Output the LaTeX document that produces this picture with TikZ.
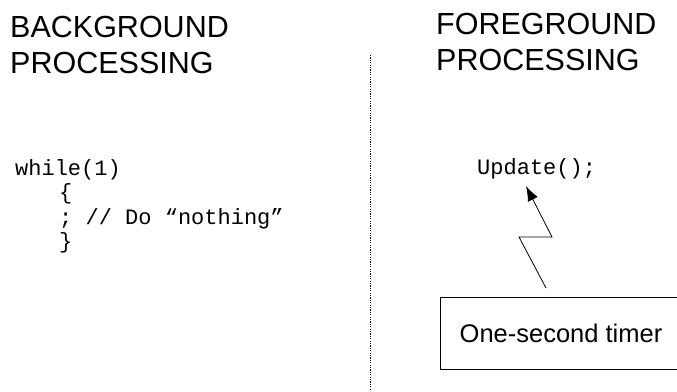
\documentclass[tikz,border=0pt]{standalone}
\usepackage{fontspec}
\setmainfont{Liberation Sans}
\newfontfamily\codefont{Liberation Mono}
\usetikzlibrary{arrows.meta}
\tikzset{
  title/.style={inner sep=0pt, anchor=base west, align=left,
    font=\fontsize{30.5}{36}\selectfont},
  code/.style={inner sep=0pt, anchor=base west, align=left,
    font=\codefont\fontsize{22}{24.5}\selectfont},
  timerbox/.style={draw, line width=0.8pt, minimum width=242pt, minimum height=72pt,
    inner sep=0pt, font=\fontsize{25.5}{30}\selectfont},
  divider/.style={line width=1pt, dash pattern=on 1.1pt off 1.3pt},
  bolt/.style={line width=0.8pt, -{Latex[length=15pt,width=11pt]}}
}
\begin{document}
\begin{tikzpicture}[x=1pt,y=-1pt]
\useasboundingbox (0,0) rectangle (677,391);
\node[title] (bgtitle) at (10,73) {BACKGROUND\\PROCESSING};
\node[title] (fgtitle) at (436,70) {FOREGROUND\\PROCESSING};
\coordinate (dtop) at (370,55);
\coordinate (dbot) at (370,391);
\draw[divider] (dtop) -- (dbot);
\node[code] (loop) at (15,248.5) {while(1)\\\hspace*{44pt}\{\\\hspace*{44pt}; // Do “nothing”\\\hspace*{44pt}\}};
\node[code] (update) at (477,174) {Update();};
\node[timerbox] (timer) at (561,333) {One-second timer};
\coordinate (bs) at (546,288);
\coordinate (ba) at (519,237);
\coordinate (bb) at (552,237);
\coordinate (bt) at (526,186);
\draw[bolt] (bs) -- (ba) -- (bb) -- (bt);
\end{tikzpicture}
\end{document}
